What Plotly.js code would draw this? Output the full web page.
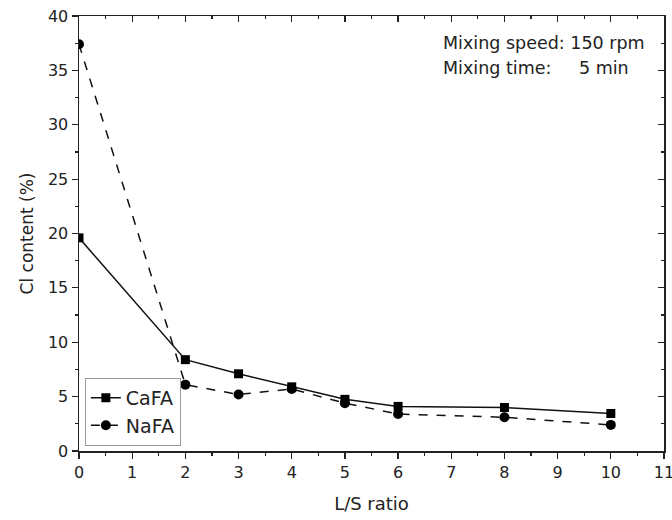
<!DOCTYPE html>
<html><head><meta charset="utf-8">
<script src="https://cdn.plot.ly/plotly-3.0.1.min.js"></script>
<style>body{margin:0;background:#fff}#plot{width:672px;height:520px}</style>
</head><body><div id="plot"></div>
<script>
const lsRatio = [0, 2, 3, 4, 5, 6, 8, 10];
const caFA = [19.6, 8.4, 7.1, 5.9, 4.75, 4.1, 4.0, 3.45];
const naFA = [37.4, 6.1, 5.2, 5.7, 4.4, 3.4, 3.1, 2.4];
const xTicks = [0,1,2,3,4,5,6,7,8,9,10,11];
const yTicks = [0,5,10,15,20,25,30,35,40];

const fam = '"DejaVu Sans", "Noto Sans CJK JP", sans-serif';
const font = {family: fam, size: 16, color: '#222'};
const traces = [
  {x: lsRatio, y: caFA, name: 'CaFA', mode: 'lines+markers',
   line: {color: '#111', width: 1.5, dash: 'solid'},
   marker: {symbol: 'square', size: 9, color: '#000'}},
  {x: lsRatio, y: naFA, name: 'NaFA', mode: 'lines+markers',
   line: {color: '#111', width: 1.5, dash: 'dash'},
   marker: {symbol: 'circle', size: 10, color: '#000'}}
];
const axBase = {showgrid: false, zeroline: false, linecolor: '#222', linewidth: 1.5,
  tickcolor: '#222', tickwidth: 1.2, ticklen: 6, ticks: 'outside', tickfont: font,
  ticklabeloverflow: 'allow'};
const layout = {
  width: 672, height: 520,
  margin: {l: 79, r: 8, t: 16, b: 69},
  paper_bgcolor: '#fff', plot_bgcolor: '#fff',
  font: font,
  showlegend: true,
  legend: {x: 0.01, y: 0.012, xanchor: 'left', yanchor: 'bottom',
    bordercolor: '#999', borderwidth: 1, bgcolor: '#fff',
    font: {family: fam, size: 19, color: '#222'}, tracegroupgap: 0},
  xaxis: Object.assign({}, axBase, {range: [0, 11], tickvals: xTicks, ticktext: xTicks.map(String),
    minor: {dtick: 0.5, ticks: 'outside', ticklen: 3, tickcolor: '#222'},
    title: {text: 'L/S ratio', font: {family: fam, size: 18, color: '#222'}, standoff: 16}}),
  yaxis: Object.assign({}, axBase, {range: [0, 40], tickvals: yTicks, ticktext: yTicks.map(String),
    minor: {dtick: 2.5, ticks: 'outside', ticklen: 3, tickcolor: '#222'},
    title: {text: 'Cl content (%)', font: {family: fam, size: 17, color: '#222'}, standoff: 10}}),
  xaxis2: Object.assign({}, axBase, {range: [0, 11], overlaying: 'x', side: 'top', ticks: 'inside',
    tickvals: xTicks, showticklabels: false, minor: {dtick: 0.5, ticks: 'inside', ticklen: 3, tickcolor: '#222'}}),
  yaxis2: Object.assign({}, axBase, {range: [0, 40], overlaying: 'y', side: 'right', ticks: 'inside',
    tickvals: yTicks, showticklabels: false, minor: {dtick: 2.5, ticks: 'inside', ticklen: 3, tickcolor: '#222'}}),
  annotations: [
    {xref: 'paper', yref: 'paper', x: 0.619, y: 0.938, xanchor: 'left', yanchor: 'middle', showarrow: false,
     text: 'Mixing speed: 150 rpm', font: {family: fam, size: 17.5, color: '#222'}},
    {xref: 'paper', yref: 'paper', x: 0.619, y: 0.880, xanchor: 'left', yanchor: 'middle', showarrow: false,
     text: 'Mixing time:', font: {family: fam, size: 17.5, color: '#222'}},
    {xref: 'paper', yref: 'paper', x: 0.943, y: 0.880, xanchor: 'right', yanchor: 'middle', showarrow: false,
     text: '5 min', font: {family: fam, size: 17.5, color: '#222'}}
  ]
};
traces.push({x: [0], y: [0], xaxis: 'x2', yaxis: 'y2', mode: 'markers', marker: {opacity: 0}, showlegend: false, hoverinfo: 'skip'});
Plotly.newPlot('plot', traces, layout, {staticPlot: true});
</script></body></html>
